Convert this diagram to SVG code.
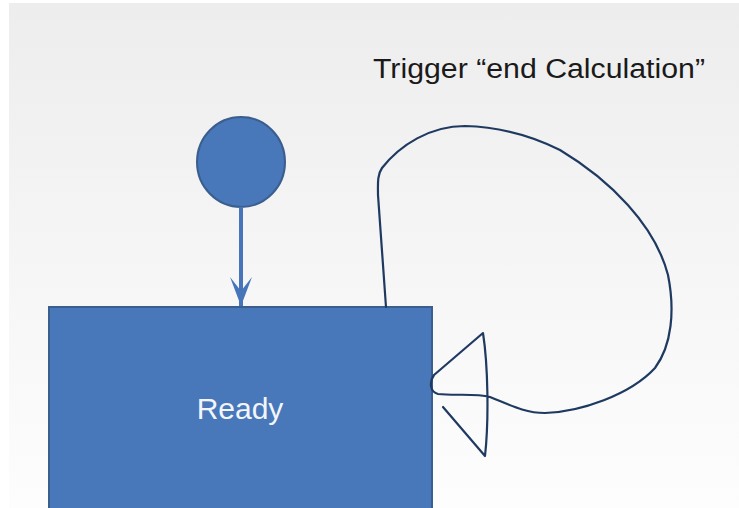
<svg xmlns="http://www.w3.org/2000/svg" width="739" height="508" viewBox="0 0 739 508">
  <defs>
    <linearGradient id="bg" x1="0" y1="0" x2="0" y2="1">
      <stop offset="0" stop-color="#ededed"/>
      <stop offset="0.6" stop-color="#f7f7f7"/>
      <stop offset="1" stop-color="#fdfdfd"/>
    </linearGradient>
    <marker id="arrow" viewBox="0 0 32 24" refX="31" refY="12" markerWidth="32" markerHeight="24" markerUnits="userSpaceOnUse" orient="auto">
      <path d="M31 12 L2 1 L16 12 L2 23 Z" fill="#4676b9"/>
    </marker>
    <style>
      .node { fill: #4878b9; stroke: #3a5f8e; stroke-width: 2; }
      .flow { stroke: #4676b9; stroke-width: 4; fill: none; }
      .loop { stroke: #1f3a60; stroke-width: 2.2; fill: none; stroke-linejoin: round; stroke-linecap: round; }
      .label { font-family: "Liberation Sans", Arial, sans-serif; }
    </style>
  </defs>
  <rect x="0" y="0" width="739" height="508" fill="#ffffff"/>
  <rect x="9" y="3" width="730" height="505" fill="url(#bg)"/>

  <g id="start">
    <ellipse class="node" cx="241" cy="162" rx="44" ry="45"/>
  </g>

  <g id="ready">
    <rect class="node" x="49" y="307" width="383" height="210"/>
    <text class="label" x="240" y="419" font-size="30" fill="#f2f5fa" text-anchor="middle">Ready</text>
  </g>

  <g id="connectors">
    <line class="flow" x1="241" y1="207" x2="241" y2="306" marker-end="url(#arrow)"/>
    <path class="loop" d="M 443 407 L 485 456 C 489 420, 488 365, 483 333 L 434 375 C 429 382, 430 392, 438 394 C 455 396, 475 393, 490 397 C 510 405, 525 413, 545 413 C 580 412, 630 395, 655 368 C 672 345, 675 310, 668 275 C 655 225, 610 180, 560 150 C 530 135, 500 127, 465 126 C 430 126, 400 145, 382 168 C 377 175, 378 185, 378 195 L 386 307"/>
    <text class="label" x="373" y="78" font-size="27" fill="#1a1a1a" textLength="332" lengthAdjust="spacingAndGlyphs">Trigger “end Calculation”</text>
  </g>
</svg>
